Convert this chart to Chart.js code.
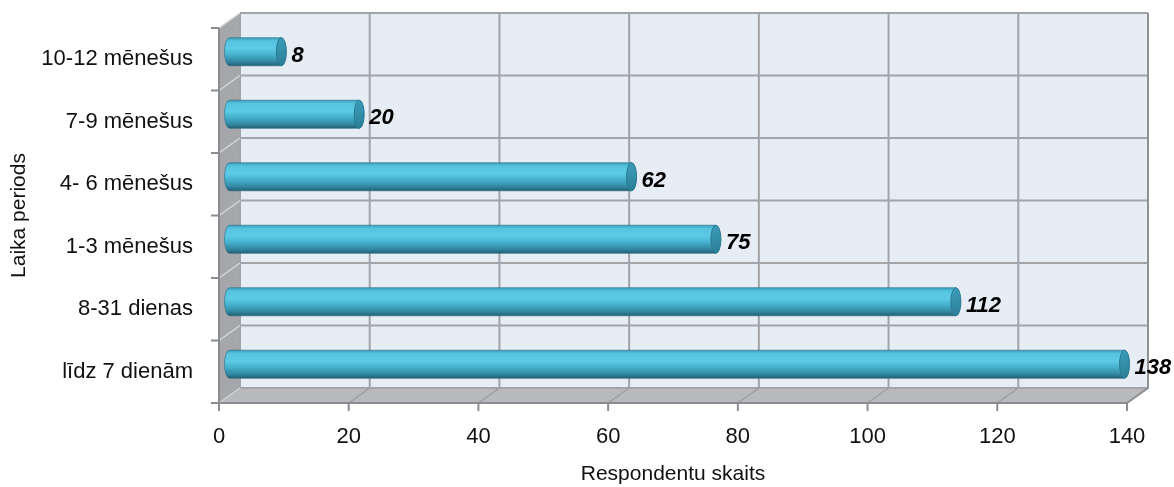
<!DOCTYPE html>
<html>
<head>
<meta charset="utf-8">
<script src="https://cdn.jsdelivr.net/npm/chart.js@4"></script>
<style>
  html,body{margin:0;padding:0;background:#fff;}
  #wrap{width:1174px;height:487px;}
</style>
</head>
<body>
<div id="wrap"><canvas id="chart" width="1174" height="487"></canvas></div>
<script>
// data
const categories = ['10-12 mēnešus', '7-9 mēnešus', '4- 6 mēnešus', '1-3 mēnešus', '8-31 dienas', 'līdz 7 dienām'];
const respondents = [8, 20, 62, 75, 112, 138];
const xTicks = [0, 20, 40, 60, 80, 100, 120, 140];
const xTitle = 'Respondentu skaits';
const yTitle = 'Laika periods';

// 3D depth of the box (back wall offset)
const DX = 21, DY = -15;
const FONT = "'Liberation Sans', Arial, sans-serif";

Chart.defaults.font.family = FONT;
Chart.defaults.color = '#111';

function boxBounds(chart){
  const xs = chart.scales.x, ys = chart.scales.y;
  const xPix = xTicks.map(v => xs.getPixelForValue(v));
  const yPix = categories.map((c,i) => ys.getPixelForValue(i - 0.5));
  yPix.push(ys.getPixelForValue(categories.length - 0.5));
  return { xPix, yPix, left: xs.getPixelForValue(xTicks[0]), right: xs.getPixelForValue(xTicks[xTicks.length-1]),
           top: Math.min(...yPix), bottom: Math.max(...yPix) };
}

const box3d = {
  id: 'box3d',
  beforeDatasetsDraw(chart){
    const c = chart.ctx;
    const b = boxBounds(chart);
    c.save();
    // back wall
    c.fillStyle = '#e7edf5';
    c.fillRect(b.left + DX, b.top + DY, b.right - b.left, b.bottom - b.top);
    // side wall
    c.fillStyle = '#a5a7aa';
    c.beginPath();
    c.moveTo(b.left, b.top); c.lineTo(b.left + DX, b.top + DY);
    c.lineTo(b.left + DX, b.bottom + DY); c.lineTo(b.left, b.bottom); c.closePath(); c.fill();
    // floor
    c.fillStyle = '#b7b9bc';
    c.beginPath();
    c.moveTo(b.left, b.bottom); c.lineTo(b.left + DX, b.bottom + DY);
    c.lineTo(b.right + DX, b.bottom + DY); c.lineTo(b.right, b.bottom); c.closePath(); c.fill();

    // back wall grid
    c.strokeStyle = '#a2a4a7'; c.lineWidth = 2;
    b.xPix.forEach(x => { c.beginPath(); c.moveTo(x + DX, b.top + DY); c.lineTo(x + DX, b.bottom + DY); c.stroke(); });
    b.yPix.forEach(y => { c.beginPath(); c.moveTo(b.left + DX, y + DY); c.lineTo(b.right + DX, y + DY); c.stroke(); });

    // floor diagonals
    c.strokeStyle = '#9c9ea1'; c.lineWidth = 1.5;
    b.xPix.forEach(x => { c.beginPath(); c.moveTo(x, b.bottom); c.lineTo(x + DX, b.bottom + DY); c.stroke(); });
    // side wall diagonals
    c.strokeStyle = '#d4d6d8'; c.lineWidth = 1.5;
    b.yPix.forEach(y => { c.beginPath(); c.moveTo(b.left, y); c.lineTo(b.left + DX, y + DY); c.stroke(); });

    // right edge of back wall, darker
    c.strokeStyle = '#8f9195'; c.lineWidth = 2;
    c.beginPath(); c.moveTo(b.right + DX, b.top + DY); c.lineTo(b.right + DX, b.bottom + DY); c.lineTo(b.right, b.bottom); c.stroke();

    // front axes + tick marks
    c.strokeStyle = '#8a8c8f'; c.lineWidth = 2;
    c.beginPath(); c.moveTo(b.left, b.top); c.lineTo(b.left, b.bottom); c.lineTo(b.right, b.bottom); c.stroke();
    b.xPix.forEach(x => { c.beginPath(); c.moveTo(x, b.bottom); c.lineTo(x, b.bottom + 8); c.stroke(); });
    b.yPix.forEach(y => { c.beginPath(); c.moveTo(b.left, y); c.lineTo(b.left - 8, y); c.stroke(); });
    c.restore();
  },
  afterDatasetsDraw(chart){
    const c = chart.ctx;
    const meta = chart.getDatasetMeta(0);
    c.save();
    meta.data.forEach((el, i) => {
      const p = el.getProps(['x','y','base','height'], true);
      const cy = p.y + DY/2, r = p.height/2;
      const x0 = p.base + DX/2, x1 = p.x + DX/2;
      const rx = 5;
      // body
      const g = c.createLinearGradient(0, cy - r, 0, cy + r);
      g.addColorStop(0, '#3a9dba');
      g.addColorStop(0.12, '#56c3df');
      g.addColorStop(0.38, '#5ccbe6');
      g.addColorStop(0.62, '#45afcc');
      g.addColorStop(0.85, '#3288a2');
      g.addColorStop(1, '#245f70');
      c.fillStyle = g;
      c.beginPath();
      c.moveTo(x1, cy - r);
      c.lineTo(x0, cy - r);
      c.ellipse(x0, cy, rx, r, 0, -Math.PI/2, Math.PI/2, true);
      c.lineTo(x1, cy + r);
      c.closePath();
      c.fill();
      c.strokeStyle = 'rgba(40,110,135,0.6)'; c.lineWidth = 1;
      c.stroke();
      // end cap
      const gc = c.createLinearGradient(x1 - rx, cy - r, x1 + rx, cy + r);
      gc.addColorStop(0, '#3c9fbb');
      gc.addColorStop(1, '#2b7d95');
      c.fillStyle = gc;
      c.beginPath(); c.ellipse(x1, cy, rx, r, 0, 0, Math.PI*2); c.fill();
      c.strokeStyle = '#2a7990'; c.stroke();
      // value label
      c.fillStyle = '#000';
      c.font = `italic bold 22px ${FONT}`;
      c.textAlign = 'left'; c.textBaseline = 'middle';
      c.fillText(String(respondents[i]), x1 + rx + 5, cy + 4);
    });
    c.restore();
  }
};

new Chart(document.getElementById('chart'), {
  type: 'bar',
  data: {
    labels: categories,
    datasets: [{
      label: xTitle,
      data: respondents,
      backgroundColor: 'rgba(0,0,0,0)',
      borderWidth: 0,
      categoryPercentage: 0.9,
      barPercentage: 0.5
    }]
  },
  options: {
    indexAxis: 'y',
    responsive: false,
    animation: false,
    layout: { padding: { top: 28, right: 47, left: 0, bottom: 0 } },
    plugins: { legend: { display: false }, tooltip: { enabled: false } },
    scales: {
      x: {
        min: 0, max: 140,
        afterFit(s){ s.height = 84; s.paddingLeft = 0; s.paddingRight = 0; },
        afterBuildTicks(s){ s.ticks = xTicks.map(v => ({ value: v })); },
        grid: { display: false, drawTicks: false },
        border: { display: false },
        ticks: { font: { size: 22 }, color: '#111', padding: 21 },
        title: { display: true, text: xTitle, font: { size: 21 }, color: '#111', padding: { top: 0, bottom: 0 } }
      },
      y: {
        afterFit(s){ s.width = 219; s.paddingTop = 0; s.paddingBottom = 0; },
        grid: { display: false, drawTicks: false },
        border: { display: false },
        ticks: { font: { size: 22 }, color: '#111', padding: 26 },
        title: { display: true, text: yTitle, font: { size: 21 }, color: '#111', padding: { top: 7, bottom: 0 } }
      }
    }
  },
  plugins: [box3d]
});
</script>
</body>
</html>
